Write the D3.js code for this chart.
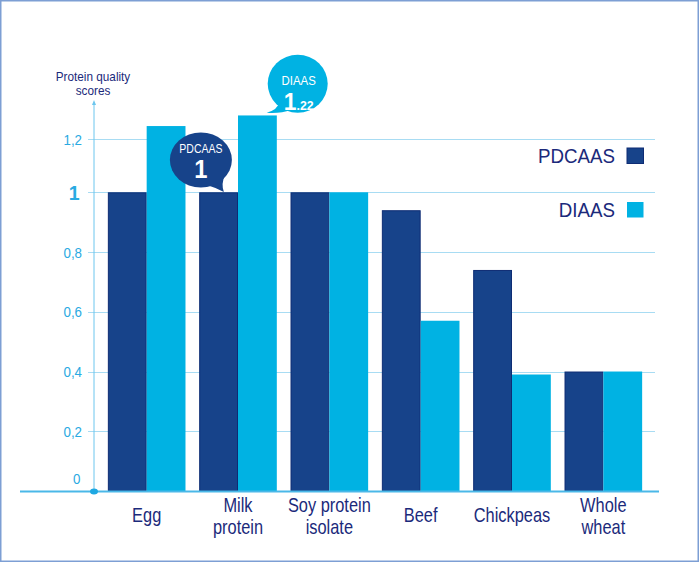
<!DOCTYPE html>
<html><head><meta charset="utf-8">
<script src="https://cdn.jsdelivr.net/npm/d3@7"></script>
<style>
html,body{margin:0;padding:0;background:#fff;}
svg{display:block;}
</style></head>
<body>
<script>
// ---- data ----
const categories = ["Egg", "Milk protein", "Soy protein isolate", "Beef", "Chickpeas", "Whole wheat"];
const categoryLines = [["Egg"], ["Milk", "protein"], ["Soy protein", "isolate"], ["Beef"], ["Chickpeas"], ["Whole", "wheat"]];
const seriesNames = ["PDCAAS", "DIAAS"];
const pdcaas = [1.00, 1.00, 1.00, 0.94, 0.74, 0.40];
const diaas = [1.25, 1.29, 1.00, 0.57, 0.39, 0.40];
const yTicks = [0, 0.2, 0.4, 0.6, 0.8, 1, 1.2];
const yTickLabels = ["0", "0,2", "0,4", "0,6", "0,8", "1", "1,2"];
const yTitle = ["Protein quality", "scores"];
const bubblePD = {title: "PDCAAS", big: "1", small: ""};
const bubbleDI = {title: "DIAAS", big: "1", small: ".22"};

const W = 700, H = 563;
const colPD = "#17438a", colPDstroke = "#0e2c74", colDI = "#00b2e3";
const navy = "#1b2a7b", cyanTxt = "#2aaae2", gridCol = "#a8dcf3", axisCol = "#6cc6ee";
const FONT = "Liberation Sans, Arial, sans-serif";

const svg = d3.select("body").append("svg").attr("width", W).attr("height", H);

// condensed text helper (horizontal squeeze of a Helvetica-like face)
function ntext(parent, px, py, str, size, opts = {}) {
  const sx = opts.sx || 0.82;
  const gg = parent.append("g").attr("transform", `translate(${px},${py}) scale(${sx},1)`);
  return gg.append("text").attr("x", 0).attr("y", 0)
    .attr("text-anchor", opts.anchor || "middle")
    .attr("font-family", FONT).attr("font-size", size)
    .attr("font-weight", opts.weight || "normal")
    .attr("fill", opts.fill || navy).text(str);
}

// frame
svg.append("rect").attr("x", 0.75).attr("y", 0.75).attr("width", W - 2.5).attr("height", H - 2.5)
  .attr("fill", "#fff").attr("stroke", "#7d9fd4").attr("stroke-width", 1.5);

const x = d3.scaleBand().domain(categories).range([101, 649]).paddingInner(0.15).paddingOuter(0.075);
const xs = d3.scaleBand().domain(seriesNames).range([0, x.bandwidth()]).padding(0);
const y = d3.scaleLinear().domain([0, 1, 1.2]).range([491, 192.3, 139.3]);

const axisX = 94;
// gridlines
svg.append("g").selectAll("line").data(yTicks.filter(d => d > 0)).join("line")
  .attr("x1", axisX - 6).attr("x2", 655)
  .attr("y1", d => Math.round(y(d)) + 0.5).attr("y2", d => Math.round(y(d)) + 0.5)
  .attr("stroke", gridCol).attr("stroke-width", 1.2);

// y axis line + arrow
svg.append("line").attr("x1", axisX).attr("x2", axisX).attr("y1", 103).attr("y2", y(0))
  .attr("stroke", axisCol).attr("stroke-width", 1);
svg.append("path").attr("d", `M${axisX - 2},${105} L${axisX},${100} L${axisX + 2},${105} Z`).attr("fill", axisCol);

// tick labels
const tg = svg.append("g");
yTicks.forEach((d, i) => {
  if (d === 1) {
    tg.append("text").attr("x", 79.5).attr("y", y(d) + 7.5).attr("text-anchor", "end")
      .attr("font-family", FONT).attr("font-weight", "bold").attr("font-size", 19.5)
      .attr("fill", cyanTxt).text(yTickLabels[i]);
  } else {
    ntext(tg, d === 0 ? 80.5 : 82, d === 0 ? y(d) - 7 : y(d) + 5.5, yTickLabels[i], 15.5,
      {anchor: "end", fill: cyanTxt, sx: 0.86});
  }
});

// y title
ntext(svg, 93, 80.5, yTitle[0], 12, {sx: 0.98});
ntext(svg, 93, 94.5, yTitle[1], 12, {sx: 0.98});

// bars
const rows = categories.map((c, i) => ({cat: c, vals: [pdcaas[i], diaas[i]]}));
const g = svg.append("g");
rows.forEach(r => {
  r.vals.forEach((v, j) => {
    const s = seriesNames[j];
    g.append("rect")
      .attr("x", x(r.cat) + xs(s) + (j === 0 ? 0.5 : 0))
      .attr("y", y(v) + (j === 0 ? 0.5 : 0))
      .attr("width", xs.bandwidth() - (j === 0 ? 1 : 0))
      .attr("height", y(0) - y(v) - (j === 0 ? 0.5 : 0))
      .attr("fill", j === 0 ? colPD : colDI)
      .attr("stroke", j === 0 ? colPDstroke : "none")
      .attr("stroke-width", 1);
  });
});

// baseline
svg.append("line").attr("x1", 20).attr("x2", 659).attr("y1", y(0) + 0.5).attr("y2", y(0) + 0.5)
  .attr("stroke", "#4ab8e8").attr("stroke-width", 2);
svg.append("ellipse").attr("cx", axisX).attr("cy", y(0) + 0.5).attr("rx", 4).attr("ry", 3).attr("fill", "#1ea8e2");

// category labels
categories.forEach((c, i) => {
  const lines = categoryLines[i];
  const cx = x(c) + x.bandwidth() / 2;
  const y0 = lines.length === 1 ? 522 : 512;
  lines.forEach((l, k) => ntext(svg, cx, y0 + k * 21.5, l, 20, {sx: 0.82}));
});

// legend
const legY = [162.5, 216.5];
seriesNames.forEach((s, i) => {
  ntext(svg, 615, legY[i], s, 19.5, {anchor: "end", sx: 0.96});
  svg.append("rect").attr("x", 627).attr("y", legY[i] - 14.5).attr("width", 16.5).attr("height", 15.5)
    .attr("fill", i === 0 ? colPD : colDI).attr("stroke", i === 0 ? colPDstroke : "none");
});

// speech bubbles anchored to the milk protein bars
const milk = categories[1];
// PDCAAS bubble
{
  const cx = x(milk) + 1.7, cy = y(pdcaas[1]) - 32.3;
  const b = svg.append("g");
  b.append("path").attr("d", `M${cx + 6},${cy + 25} Q${cx + 16},${cy + 28} ${cx + 23},${cy + 32} Q${cx + 20},${cy + 24} ${cx + 24},${cy + 15} Z`).attr("fill", colPD);
  b.append("ellipse").attr("cx", cx).attr("cy", cy).attr("rx", 31).attr("ry", 27.5).attr("fill", colPD);
  ntext(b, cx, cy - 7.5, bubblePD.title, 12.5, {fill: "#fff", sx: 0.84});
  ntext(b, cx, cy + 17.5, bubblePD.big, 25, {fill: "#fff", weight: "bold", sx: 0.95});
}
// DIAAS bubble
{
  const cx = x(milk) + xs("DIAAS") + 59.7, cy = y(diaas[1]) - 31.7;
  const b = svg.append("g");
  b.append("path").attr("d", `M${cx - 18},${cy + 18} Q${cx - 20},${cy + 26} ${cx - 31},${cy + 29} Q${cx - 17},${cy + 30} ${cx - 7},${cy + 26} Z`).attr("fill", colDI);
  b.append("ellipse").attr("cx", cx).attr("cy", cy).attr("rx", 30).attr("ry", 29).attr("fill", colDI);
  ntext(b, cx + 1, cy + 1.5, bubbleDI.title, 13, {fill: "#fff", sx: 0.88});
  const t = ntext(b, cx + 1, cy + 26.5, "", 24, {fill: "#fff", weight: "bold", sx: 0.95});
  t.append("tspan").attr("font-size", 24).text(bubbleDI.big);
  t.append("tspan").attr("font-size", 13).text(bubbleDI.small);
}
</script>
</body></html>
